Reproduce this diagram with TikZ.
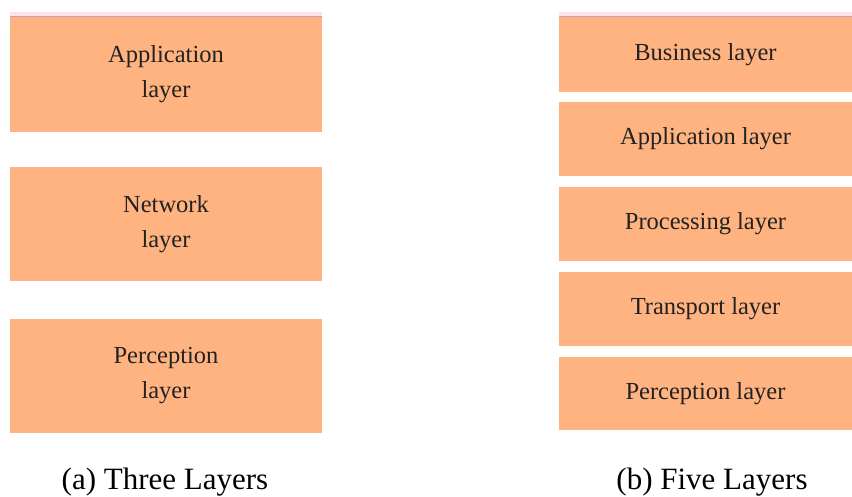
\documentclass[tikz,border=0pt]{standalone}
\usepackage{fontspec}
\setmainfont{Liberation Serif}
\definecolor{layerfill}{HTML}{FFB380}
\definecolor{stripPink}{HTML}{FCE2EB}
\definecolor{stripLine}{HTML}{C9A3AC}
\definecolor{txt}{HTML}{222222}
\begin{document}
\begin{tikzpicture}[x=1pt,y=-1pt,
  layerbox/.style={fill=layerfill, draw=none, inner sep=0pt, align=center,
    text=txt, font=\fontsize{24.5}{35}\selectfont},
  leftbox/.style={layerbox, minimum width=312pt, minimum height=114.5pt},
  rightbox/.style={layerbox, minimum width=293pt, minimum height=74pt},
  captext/.style={anchor=base, inner sep=0pt, font=\fontsize{31}{36}\selectfont, text=black}]
\useasboundingbox (0,0) rectangle (852,497);
% top strips
\fill[stripPink] (10,12) rectangle (322,17);
\fill[stripLine] (10,16) rectangle (322,17.3);
\fill[stripPink] (559,12) rectangle (852,17);
\fill[stripLine] (559,16) rectangle (852,17.3);
% three layers
\node[leftbox] (app3) at (166,74.5) {Application\\layer};
\node[leftbox] (net3) at (166,224) {Network\\layer};
\node[leftbox] (per3) at (166,376) {Perception\\layer};
% five layers
\node[rightbox, minimum height=75pt] (bus5) at (705.5,54.5) {Business layer};
\node[rightbox] (app5) at (705.5,139) {Application layer};
\node[rightbox] (pro5) at (705.5,224) {Processing layer};
\node[rightbox] (tra5) at (705.5,309) {Transport layer};
\node[rightbox, minimum height=73pt] (per5) at (705.5,393.5) {Perception layer};
% captions
\node[captext] (capa) at (165,489) {(a) Three Layers};
\node[captext] (capb) at (712,489) {(b) Five Layers};
\end{tikzpicture}
\end{document}
